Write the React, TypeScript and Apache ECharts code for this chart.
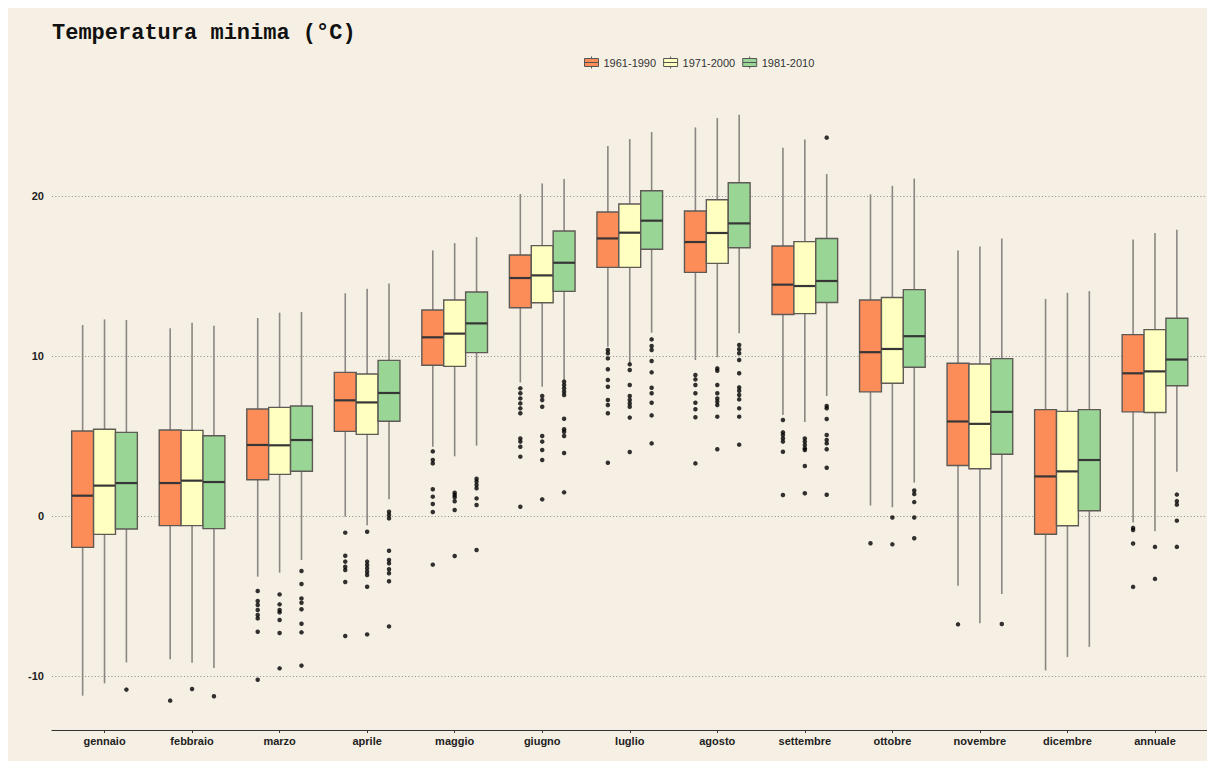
import React, { useEffect, useRef } from "react";
import * as echarts from "echarts";

const months = [
  "gennaio", "febbraio", "marzo", "aprile", "maggio", "giugno", "luglio",
  "agosto", "settembre", "ottobre", "novembre", "dicembre", "annuale",
];
const periods = ["1961-1990", "1971-2000", "1981-2010"];
const boxColors = ["#fc8d59", "#ffffbf", "#99d594"];
const yTicks = [-10, 0, 10, 20];
const xTicks = [1, 2, 3, 4, 5, 6, 7, 8, 9, 10, 11, 12, 13];

// [min whisker, Q1, median, Q3, max whisker]
const stats1961 = [
  [-11.23, -1.96, 1.27, 5.31, 11.94],
  [-8.96, -0.6, 2.06, 5.375, 11.73],
  [-3.79, 2.27, 4.44, 6.69, 12.375],
  [-0.04, 5.29, 7.23, 8.98, 13.92],
  [4.33, 9.42, 11.17, 12.875, 16.6],
  [8.35, 13.02, 14.875, 16.31, 20.125],
  [10.58, 15.54, 17.35, 19.0, 23.125],
  [9.75, 15.23, 17.125, 19.06, 24.29],
  [6.31, 12.6, 14.46, 16.875, 23.02],
  [0.66, 7.76, 10.24, 13.5, 20.1],
  [-4.36, 3.16, 5.91, 9.55, 16.6],
  [-9.65, -1.14, 2.475, 6.65, 13.57],
  [-0.41, 6.51, 8.92, 11.34, 17.28],
];
const stats1971 = [
  [-10.46, -1.15, 1.9, 5.42, 12.29],
  [-9.17, -0.6, 2.21, 5.35, 12.08],
  [-3.54, 2.6, 4.42, 6.79, 12.71],
  [-0.58, 5.1, 7.1, 8.875, 14.21],
  [3.73, 9.35, 11.4, 13.5, 17.06],
  [8.08, 13.33, 15.04, 16.9, 20.79],
  [9.54, 15.54, 17.71, 19.5, 23.56],
  [9.92, 15.79, 17.69, 19.77, 24.875],
  [5.875, 12.65, 14.375, 17.15, 23.54],
  [0.55, 8.3, 10.44, 13.66, 20.64],
  [-6.7, 2.95, 5.76, 9.5, 16.85],
  [-8.82, -0.61, 2.79, 6.54, 13.95],
  [-0.96, 6.47, 9.04, 11.65, 17.69],
];
const stats1981 = [
  [-9.15, -0.81, 2.06, 5.23, 12.25],
  [-9.5, -0.79, 2.125, 5.02, 11.9],
  [-2.75, 2.8, 4.75, 6.875, 12.75],
  [1.04, 5.92, 7.69, 9.73, 14.54],
  [4.4, 10.21, 12.04, 14.0, 17.44],
  [8.5, 14.04, 15.83, 17.81, 21.06],
  [11.46, 16.67, 18.46, 20.33, 24.0],
  [11.42, 16.77, 18.29, 20.83, 25.08],
  [7.5, 13.35, 14.69, 17.35, 21.375],
  [2.09, 9.3, 11.24, 14.15, 21.09],
  [-4.875, 3.86, 6.51, 9.84, 17.34],
  [-8.18, 0.33, 3.5, 6.65, 14.06],
  [2.76, 8.14, 9.78, 12.36, 17.9],
];

const outliers1961 = [
  [],
  [-11.54],
  [-4.69, -5.31, -5.56, -5.875, -6.19, -6.4, -7.23, -10.23],
  [-1.04, -2.48, -2.85, -3.17, -3.375, -4.125, -7.5],
  [4.04, 3.5, 3.29, 1.67, 1.21, 0.75, 0.25, -3.04],
  [7.98, 7.67, 7.35, 7.04, 6.73, 6.42, 4.85, 4.65, 4.33, 3.71, 0.58],
  [10.375, 10.17, 9.85, 9.17, 8.5, 8.08, 7.25, 6.94, 6.42, 3.33],
  [8.81, 8.54, 8.19, 7.67, 7.08, 6.67, 6.17, 3.29],
  [6.0, 5.23, 5.06, 4.85, 4.65, 4.02, 1.31],
  [-1.7],
  [-6.77],
  [],
  [-0.74, -0.875, -1.72, -4.43],
];
const outliers1971 = [
  [],
  [-10.81],
  [-4.9, -5.52, -5.875, -6.02, -6.5, -7.31, -9.52],
  [-0.98, -2.85, -3.06, -3.27, -3.48, -3.69, -4.42, -7.4],
  [1.46, 1.31, 1.17, 0.92, 0.375, -2.5],
  [7.5, 7.25, 6.83, 5.0, 4.65, 4.125, 3.5, 1.04],
  [9.48, 9.125, 8.19, 7.5, 7.25, 7.04, 6.83, 6.15, 4.0],
  [9.23, 9.08, 8.19, 7.67, 7.35, 7.15, 6.94, 6.21, 4.17],
  [4.85, 4.65, 4.44, 4.23, 4.125, 3.125, 1.42],
  [-0.09, -1.77],
  [],
  [],
  [-1.93, -3.93],
];
const outliers1981 = [
  [-10.85],
  [-11.27],
  [-3.44, -4.25, -5.15, -5.42, -5.83, -6.73, -7.27, -9.35],
  [0.27, 0.06, -0.15, -2.17, -2.75, -2.96, -3.33, -3.58, -4.08, -6.9],
  [2.33, 2.15, 1.94, 1.73, 1.1, 0.69, -2.125],
  [8.4, 8.19, 7.98, 7.77, 7.56, 6.08, 5.42, 5.27, 5.0, 3.94, 1.48],
  [11.04, 10.625, 10.375, 9.69, 8.98, 8.02, 7.67, 7.08, 6.29, 4.54],
  [10.69, 10.42, 10.17, 9.75, 8.92, 8.04, 7.83, 7.56, 7.29, 6.73, 6.21, 4.46],
  [23.65, 6.875, 6.73, 6.06, 5.06, 4.75, 4.54, 4.17, 3.02, 1.33],
  [1.6, 1.38, 0.87, -0.09, -1.39],
  [-6.75],
  [],
  [1.34, 0.93, 0.71, -0.29, -1.93],
];

const allStats = [stats1961, stats1971, stats1981];
const allOutliers = [outliers1961, outliers1971, outliers1981];
const dodge = [-0.25, 0, 0.25];
const boxWidthUnits = 0.25;

const SANS = "'Liberation Sans', Arial, Helvetica, sans-serif";

export default function App() {
  const ref = useRef<HTMLDivElement>(null);

  useEffect(() => {
    const chart = echarts.init(ref.current!, null, { renderer: "svg" });

    const boxSeries = periods.map((p, k) => ({
      type: "custom",
      name: p,
      data: allStats[k].map((s, i) => [i + 1 + dodge[k], ...s]),
      encode: { x: 0, y: [1, 2, 3, 4, 5] },
      itemStyle: { color: boxColors[k], borderColor: "#555", borderWidth: 1 },
      renderItem: (params: any, api: any) => {
        const x = api.value(0);
        const pMin = api.coord([x, api.value(1)]);
        const pQ1 = api.coord([x, api.value(2)]);
        const pMed = api.coord([x, api.value(3)]);
        const pQ3 = api.coord([x, api.value(4)]);
        const pMax = api.coord([x, api.value(5)]);
        const w = api.size([boxWidthUnits, 0])[0];
        const cx = pMed[0];
        const whisker = { stroke: "#8a8682", lineWidth: 1.6 };
        return {
          type: "group",
          children: [
            { type: "line", shape: { x1: cx, y1: pMax[1], x2: cx, y2: pQ3[1] }, style: whisker },
            { type: "line", shape: { x1: cx, y1: pQ1[1], x2: cx, y2: pMin[1] }, style: whisker },
            {
              type: "rect",
              shape: { x: cx - w / 2, y: pQ3[1], width: w, height: pQ1[1] - pQ3[1] },
              style: { fill: boxColors[k], stroke: "#5e5a56", lineWidth: 1.4 },
            },
            {
              type: "line",
              shape: { x1: cx - w / 2, y1: pMed[1], x2: cx + w / 2, y2: pMed[1] },
              style: { stroke: "#363636", lineWidth: 2.2 },
            },
          ],
        };
      },
    }));

    const outlierSeries = periods.map((p, k) => ({
      type: "scatter",
      name: "outliers " + p,
      symbol: "circle",
      symbolSize: 4.5,
      itemStyle: { color: "#000" },
      data: allOutliers[k].flatMap((vals, i) => vals.map((v) => [i + 1 + dodge[k], v])),
    }));

    const option: any = {
      animation: false,
      backgroundColor: "#f6f0e4",
      title: {
        text: "Temperatura minima (°C)",
        left: 39,
        top: 9,
        textStyle: {
          fontFamily: "'Liberation Mono', 'Courier New', monospace",
          fontWeight: "bold",
          fontSize: 22,
          color: "#111",
        },
      },
      legend: {
        left: 571,
        top: 43,
        itemWidth: 14,
        itemHeight: 12,
        itemGap: 7,
        icon: "path://M7,0V2M0,2H14V10H0ZM0,6H14M7,10V12",
        textStyle: { fontSize: 11, color: "#333", fontFamily: SANS },
        data: periods.map((p, k) => ({
          name: p,
          itemStyle: { color: boxColors[k], borderColor: "#555", borderWidth: 1 },
        })),
      },
      grid: { left: 44, right: 7.5, top: 77, bottom: 31 },
      xAxis: {
        type: "value",
        min: 0.4,
        max: 13.6,
        axisLine: { show: true, onZero: false, lineStyle: { color: "#333", width: 1 } },
        axisTick: { show: true, customValues: xTicks, length: 3, lineStyle: { color: "#333" } },
        axisLabel: {
          customValues: xTicks,
          formatter: (v: number) => months[Math.round(v) - 1],
          fontFamily: SANS,
          fontWeight: "bold",
          fontSize: 11,
          color: "#222",
          margin: 5,
        },
        splitLine: { show: false },
      },
      yAxis: {
        type: "value",
        min: -13.375,
        max: 26.94,
        axisLine: { show: false },
        axisTick: { show: false, customValues: yTicks },
        axisLabel: {
          customValues: yTicks,
          fontFamily: SANS,
          fontWeight: "bold",
          fontSize: 11,
          color: "#222",
          margin: 8,
        },
        splitLine: { show: true, lineStyle: { color: "#8c8c8c", type: [1, 2.3], width: 1 } },
      },
      series: [...boxSeries, ...outlierSeries],
    };

    chart.setOption(option);
    return () => chart.dispose();
  }, []);

  return <div ref={ref} style={{ width: 1207, height: 753, background: "#f6f0e4" }} />;
}
